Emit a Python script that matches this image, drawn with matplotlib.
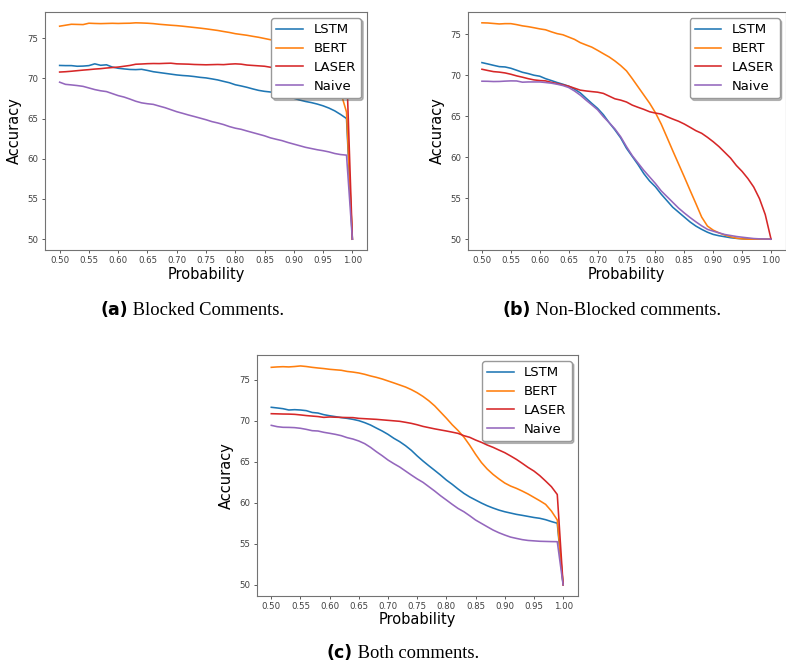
import numpy as np
import matplotlib
matplotlib.use('Agg')
import matplotlib.pyplot as plt
from matplotlib.ticker import MultipleLocator, FormatStrFormatter

# probability thresholds 0.50 .. 1.00
prob = np.linspace(0.5, 1.0, 51)

models = ['LSTM', 'BERT', 'LASER', 'Naive']
colors = ['#1f77b4', '#ff7f0e', '#d62728', '#9467bd']

# (a) blocked comments
lstm_a = [71.6, 71.58, 71.58, 71.5, 71.52, 71.58, 71.8, 71.62, 71.68, 71.4,
          71.25, 71.17, 71.1, 71.08, 71.12, 70.98, 70.82, 70.72, 70.62, 70.52,
          70.42, 70.35, 70.3, 70.22, 70.12, 70.05, 69.93, 69.8, 69.62, 69.45,
          69.2, 69.05, 68.88, 68.68, 68.5, 68.38, 68.3, 68.15, 67.98, 67.75,
          67.52, 67.3, 67.12, 66.98, 66.8, 66.58, 66.3, 65.95, 65.5, 65.0, 50.0]
bert_a = [76.48, 76.6, 76.72, 76.7, 76.68, 76.85, 76.82, 76.8, 76.82, 76.84,
          76.82, 76.84, 76.85, 76.9, 76.88, 76.85, 76.8, 76.72, 76.66, 76.6,
          76.55, 76.48, 76.4, 76.32, 76.24, 76.15, 76.05, 75.95, 75.82, 75.7,
          75.55, 75.45, 75.35, 75.22, 75.1, 74.95, 74.8, 74.65, 74.5, 74.35,
          74.2, 74.0, 73.8, 73.55, 73.3, 72.9, 72.3, 71.0, 68.3, 65.8, 50.0]
laser_a = [70.78, 70.82, 70.88, 70.95, 71.02, 71.08, 71.15, 71.2, 71.28, 71.34,
           71.4, 71.5, 71.6, 71.75, 71.78, 71.82, 71.84, 71.83, 71.86, 71.88,
           71.8, 71.78, 71.76, 71.72, 71.7, 71.68, 71.7, 71.72, 71.7, 71.76,
           71.8, 71.76, 71.65, 71.6, 71.55, 71.5, 71.38, 71.3, 71.3, 71.28,
           71.25, 71.2, 71.2, 71.15, 71.1, 71.1, 71.05, 71.0, 71.2, 71.5, 50.0]
naive_a = [69.52, 69.25, 69.18, 69.1, 69.0, 68.8, 68.6, 68.45, 68.35, 68.1,
           67.85, 67.67, 67.42, 67.15, 66.95, 66.84, 66.76, 66.55, 66.35, 66.1,
           65.85, 65.65, 65.44, 65.25, 65.05, 64.85, 64.62, 64.45, 64.25, 64.0,
           63.8, 63.66, 63.45, 63.25, 63.05, 62.85, 62.6, 62.42, 62.25, 62.02,
           61.82, 61.62, 61.42, 61.27, 61.12, 61.0, 60.85, 60.65, 60.52, 60.45, 50.0]

# (b) non-blocked comments
lstm_b = [71.56, 71.4, 71.23, 71.07, 71.03, 70.87, 70.63, 70.38, 70.22, 70.02,
          69.9, 69.6, 69.37, 69.13, 68.92, 68.68, 68.32, 67.87, 67.22, 66.58,
          65.97, 65.2, 64.23, 63.34, 62.36, 61.1, 60.1, 59.1, 58.0, 57.1,
          56.4, 55.5, 54.7, 53.9, 53.3, 52.7, 52.1, 51.6, 51.2, 50.85,
          50.58, 50.42, 50.3, 50.18, 50.1, 50.05, 50.02, 50.0, 50.0, 50.0, 50.0]
bert_b = [76.42, 76.4, 76.34, 76.28, 76.32, 76.32, 76.2, 76.05, 75.95, 75.82,
          75.68, 75.57, 75.32, 75.1, 74.96, 74.68, 74.4, 74.0, 73.72, 73.45,
          73.06, 72.65, 72.25, 71.76, 71.2, 70.55, 69.6, 68.6, 67.6, 66.6,
          65.45, 64.06, 62.44, 60.8, 59.2, 57.6, 55.96, 54.35, 52.7, 51.6,
          51.1, 50.77, 50.5, 50.3, 50.12, 50.04, 50.0, 50.0, 50.0, 50.0, 50.0]
laser_b = [70.75, 70.6, 70.46, 70.4, 70.3, 70.14, 69.94, 69.78, 69.6, 69.45,
           69.37, 69.33, 69.15, 69.0, 68.85, 68.68, 68.44, 68.2, 68.1, 68.02,
           67.95, 67.8, 67.47, 67.14, 66.98, 66.75, 66.37, 66.1, 65.85, 65.56,
           65.4, 65.28, 64.96, 64.67, 64.4, 64.06, 63.66, 63.25, 62.93, 62.44,
           61.9, 61.3, 60.6, 59.9, 59.0, 58.27, 57.4, 56.37, 54.95, 53.0, 50.0]
naive_b = [69.29, 69.28, 69.25, 69.26, 69.3, 69.33, 69.32, 69.17, 69.2, 69.2,
           69.2, 69.13, 69.05, 68.92, 68.76, 68.52, 68.1, 67.59, 66.98, 66.4,
           65.8, 64.96, 64.23, 63.46, 62.5, 61.3, 60.2, 59.3, 58.4, 57.6,
           56.8, 55.9, 55.2, 54.5, 53.8, 53.2, 52.64, 52.12, 51.63, 51.2,
           50.98, 50.77, 50.57, 50.45, 50.33, 50.24, 50.16, 50.08, 50.04, 50.02, 50.0]

# (c) both comments
lstm_c = [71.63, 71.55, 71.46, 71.3, 71.34, 71.3, 71.22, 71.0, 70.93, 70.73,
          70.6, 70.49, 70.37, 70.28, 70.16, 70.0, 69.76, 69.47, 69.1, 68.74,
          68.33, 67.85, 67.44, 66.95, 66.38, 65.7, 65.08, 64.5, 63.94, 63.37,
          62.76, 62.24, 61.67, 61.14, 60.7, 60.33, 59.96, 59.63, 59.35, 59.1,
          58.9, 58.74, 58.58, 58.46, 58.33, 58.2, 58.1, 57.93, 57.7, 57.5, 50.0]
bert_c = [76.5, 76.55, 76.58, 76.55, 76.6, 76.67, 76.6, 76.5, 76.42, 76.35,
          76.26, 76.2, 76.14, 76.0, 75.92, 75.81, 75.65, 75.45, 75.28, 75.08,
          74.84, 74.6, 74.35, 74.1, 73.78, 73.4, 72.95, 72.42, 71.8, 71.05,
          70.3, 69.5, 68.8, 68.0, 67.0, 65.9, 64.9, 64.1, 63.45, 62.9,
          62.4, 62.03, 61.75, 61.42, 61.06, 60.65, 60.24, 59.8, 58.98, 57.9, 50.0]
laser_c = [70.85, 70.83, 70.81, 70.8, 70.77, 70.7, 70.62, 70.56, 70.5, 70.4,
           70.45, 70.42, 70.4, 70.38, 70.37, 70.28, 70.24, 70.2, 70.16, 70.1,
           70.04, 69.98, 69.92, 69.8, 69.67, 69.5, 69.3, 69.15, 69.0, 68.87,
           68.74, 68.6, 68.45, 68.17, 67.97, 67.64, 67.36, 67.03, 66.75, 66.42,
           66.1, 65.7, 65.28, 64.8, 64.3, 63.86, 63.3, 62.64, 61.95, 61.0, 50.0]
naive_c = [69.43, 69.27, 69.19, 69.18, 69.15, 69.07, 68.94, 68.78, 68.74, 68.58,
           68.46, 68.33, 68.17, 67.93, 67.76, 67.52, 67.2, 66.75, 66.22, 65.73,
           65.2, 64.76, 64.35, 63.86, 63.37, 62.9, 62.48, 61.95, 61.42, 60.85,
           60.33, 59.8, 59.3, 58.9, 58.41, 57.89, 57.48, 57.07, 56.67, 56.34,
           56.06, 55.81, 55.65, 55.5, 55.4, 55.35, 55.3, 55.28, 55.26, 55.25, 50.0]

captions = [('(a)', ' Blocked Comments.'),
            ('(b)', ' Non-Blocked comments.'),
            ('(c)', ' Both comments.')]

fig = plt.figure(figsize=(7.86, 6.63), dpi=100)

# axes boxes and caption anchors, in figure pixels
panels = [
    ([45, 250, 322, 238], (100, 315), [lstm_a, bert_a, laser_a, naive_a]),
    ([467.5, 250, 318, 238], (503, 315), [lstm_b, bert_b, laser_b, naive_b]),
    ([256.7, 595.7, 321, 240.7], (327, 658), [lstm_c, bert_c, laser_c, naive_c]),
]
W, H = 786.0, 663.0

for (box, cap_xy, series), (tag, text) in zip(panels, captions):
    x0, ybot, w, h = box
    ax = fig.add_axes([x0 / W, 1 - ybot / H, w / W, h / H])
    for name, vals, c in zip(models, series, colors):
        ax.plot(prob, vals, color=c, lw=1.15, label=name)
    ax.xaxis.set_major_locator(MultipleLocator(0.05))
    ax.xaxis.set_major_formatter(FormatStrFormatter('%.2f'))
    ax.tick_params(labelsize=6.2, length=2.5, width=0.6, colors='0.25', pad=2)
    for sp in ax.spines.values():
        sp.set_color('0.45')
        sp.set_linewidth(0.8)
    ax.set_xlabel('Probability', fontsize=10.5, labelpad=1)
    ax.set_ylabel('Accuracy', fontsize=10.5, labelpad=4)
    leg = ax.legend(loc='upper right', fontsize=9.5,
                    shadow={'ox': 1.5, 'oy': -1.5, 'alpha': 0.35},
                    borderaxespad=0.45, handlelength=2.0, labelspacing=0.45)
    leg.get_frame().set_edgecolor('0.6')

    # caption: bold sans tag + serif text
    t = fig.text(cap_xy[0] / W, 1 - cap_xy[1] / H, tag, fontsize=12.5,
                 fontweight='bold', family='DejaVu Sans', va='baseline')
    fig.canvas.draw()
    bb = t.get_window_extent()
    fig.text(bb.x1 / W, 1 - cap_xy[1] / H, text, fontsize=13.3,
             family='Liberation Serif', va='baseline')

fig.savefig('out.png', dpi=100)
